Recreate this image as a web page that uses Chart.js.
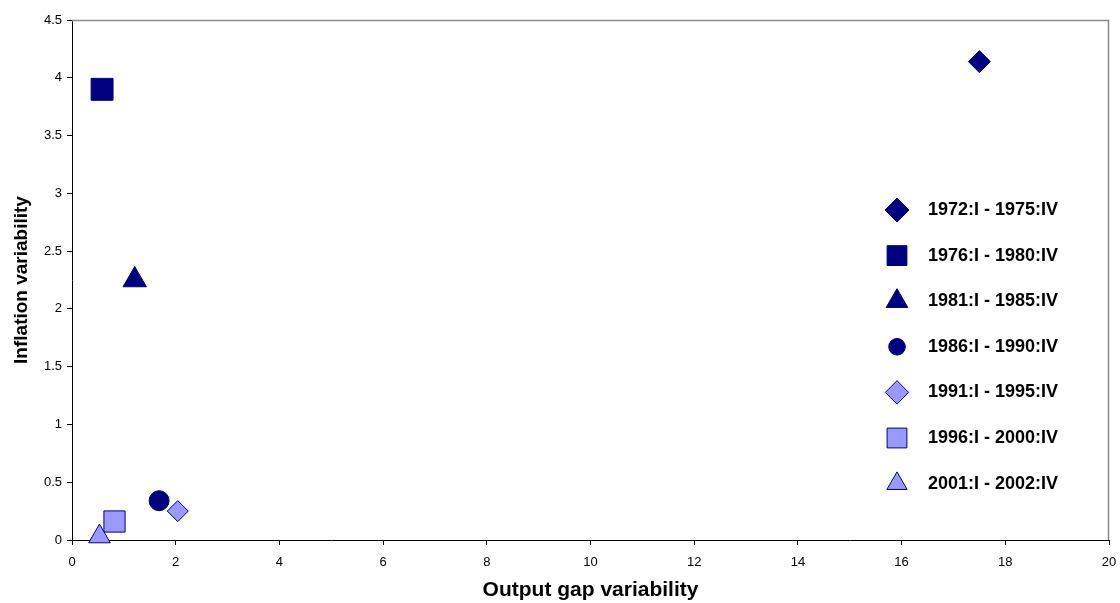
<!DOCTYPE html>
<html>
<head>
<meta charset="utf-8">
<script src="https://cdn.jsdelivr.net/npm/chart.js@4/dist/chart.umd.min.js"></script>
<style>
  html, body { margin: 0; padding: 0; background: #fff; }
  #wrap { width: 1120px; height: 603px; }
</style>
</head>
<body>
<div id="wrap"><canvas id="myChart" width="1120" height="603"></canvas></div>
<script>
// data
const periods = ['1972:I - 1975:IV', '1976:I - 1980:IV', '1981:I - 1985:IV', '1986:I - 1990:IV',
  '1991:I - 1995:IV', '1996:I - 2000:IV', '2001:I - 2002:IV'];
const outputGap = [17.5, 0.58, 1.21, 1.68, 2.04, 0.82, 0.53];
const inflation = [4.14, 3.90, 2.25, 0.34, 0.25, 0.16, 0.03];
const xTicks = [0, 2, 4, 6, 8, 10, 12, 14, 16, 18, 20];
const yTicks = [0, 0.5, 1, 1.5, 2, 2.5, 3, 3.5, 4, 4.5];

// marker styles
const shapes = ['rectRot', 'rect', 'triangle', 'circle', 'rectRot', 'rect', 'triangle'];
const sizes = [11, 15.5, 13.5, 10, 10.5, 15, 12.5];
const legendSizes = [12, 14, 12.5, 8.3, 11.7, 14, 11.7];
const dark = '#000080';
const light = '#9999FF';
const fills = [dark, dark, dark, dark, light, light, light];

let datasets = periods.map(function(p, i) {
  return {
    label: p,
    data: [{ x: outputGap[i], y: inflation[i] }],
    pointStyle: shapes[i],
    pointRadius: sizes[i],
    pointHoverRadius: sizes[i],
    backgroundColor: fills[i],
    borderColor: dark,
    borderWidth: 1,
    clip: false,
    order: periods.length - i
  };
});

// grey frame on top and right, like the original
const framePlugin = {
  id: 'frame',
  beforeDatasetsDraw(chart) {
    const a = chart.chartArea;
    const ctx = chart.ctx;
    ctx.save();
    ctx.strokeStyle = '#888';
    ctx.lineWidth = 1.5;
    ctx.beginPath();
    ctx.moveTo(a.left, a.top + 0.5);
    ctx.lineTo(a.right - 0.5, a.top + 0.5);
    ctx.lineTo(a.right - 0.5, a.bottom);
    ctx.stroke();
    ctx.restore();
  }
};

// legend drawn inside the plot area
const legendPlugin = {
  id: 'insideLegend',
  afterDraw(chart) {
    const ctx = chart.ctx;
    const x0 = 897, tx = 928, y0 = 210, step = 45.6;
    ctx.save();
    periods.forEach(function(p, i) {
      const y = y0 + i * step;
      ctx.fillStyle = fills[i];
      ctx.strokeStyle = dark;
      ctx.lineWidth = 1;
      Chart.helpers.drawPoint(ctx, { pointStyle: shapes[i], radius: legendSizes[i], rotation: 0, borderWidth: 1 }, x0, y);
      ctx.fillStyle = '#000';
      ctx.font = 'bold 18px Arial, "Liberation Sans", sans-serif';
      ctx.textAlign = 'left';
      ctx.textBaseline = 'middle';
      ctx.fillText(p, tx, y);
    });
    ctx.restore();
  }
};

let ctx = document.getElementById('myChart').getContext('2d');
let chart = new Chart(ctx, {
  type: 'scatter',
  data: { datasets: datasets },
  options: {
    responsive: false,
    animation: false,
    layout: { autoPadding: false, padding: { top: 20, right: 11, left: 0, bottom: 0 } },
    plugins: {
      legend: { display: false },
      tooltip: { enabled: false }
    },
    scales: {
      x: {
        type: 'linear',
        min: 0,
        max: 20,
        afterBuildTicks: function(scale) { scale.ticks = xTicks.map(v => ({ value: v })); },
        afterFit: function(scale) { scale.height = 63; },
        grid: { drawOnChartArea: false, drawTicks: true, tickLength: 5, color: '#000', tickColor: '#000' },
        border: { color: '#000', width: 1 },
        ticks: {
          color: '#000',
          padding: 2,
          maxRotation: 0,
          callback: function(v) { return String(v); },
          font: { family: 'Arial, "Liberation Sans", sans-serif', size: 13, lineHeight: 2.3 }
        },
        title: {
          display: true,
          text: 'Output gap variability',
          color: '#000',
          padding: { top: 0, bottom: 0.5 },
          font: { family: 'Arial, "Liberation Sans", sans-serif', size: 21, weight: 'bold' }
        }
      },
      y: {
        type: 'linear',
        min: 0,
        max: 4.5,
        afterBuildTicks: function(scale) { scale.ticks = yTicks.map(v => ({ value: v })); },
        afterFit: function(scale) { scale.width = 72; },
        grid: { drawOnChartArea: false, drawTicks: true, tickLength: 5, color: '#000', tickColor: '#000' },
        border: { color: '#000', width: 1 },
        ticks: {
          color: '#000',
          padding: 5,
          callback: function(v) { return String(v); },
          font: { family: 'Arial, "Liberation Sans", sans-serif', size: 13 }
        },
        title: {
          display: true,
          text: 'Inflation variability',
          color: '#000',
          padding: { top: 10, bottom: 0 },
          font: { family: 'Arial, "Liberation Sans", sans-serif', size: 19, weight: 'bold' }
        }
      }
    }
  },
  plugins: [framePlugin, legendPlugin]
});
</script>
</body>
</html>
